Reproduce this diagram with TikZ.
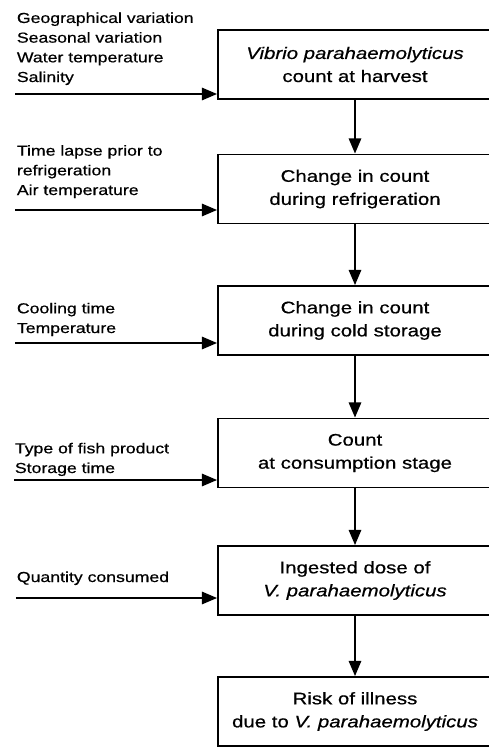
\documentclass[tikz,border=0pt]{standalone}
\usepackage{fontspec}
\setmainfont[FakeStretch=1.22, FakeBold=0.6]{Liberation Sans}
\usetikzlibrary{arrows.meta}

\tikzset{
  stage/.style={draw, line width=1.3pt, minimum width=6.85cm, minimum height=1.725cm,
    align=center, inner sep=2pt, font=\fontsize{11.9pt}{16.4pt}\selectfont},
  factor/.style={anchor=base west, align=left, inner sep=0pt,
    font=\fontsize{10.3pt}{14pt}\selectfont},
}

\begin{document}
\begin{tikzpicture}[>={Triangle[length=3.8mm, width=3.1mm]}, line width=1.3pt]
            \useasboundingbox (0,0) rectangle (12.2,-18.675);

            % Stages of the chain
            \node[stage] (harvest) at (8.875,-1.6125) {\textit{Vibrio parahaemolyticus}\\count at harvest};
            \node[stage] (fridge) at (8.875,-4.725) {Change in count\\during refrigeration};
            \node[stage] (cold) at (8.875,-8.0125) {Change in count\\during cold storage};
            \node[stage] (consume) at (8.875,-11.325) {Count\\at consumption stage};
            \node[stage] (dose) at (8.875,-14.5125) {Ingested dose of\\\textit{V. parahaemolyticus}};
            \node[stage] (risk) at (8.875,-17.7875) {Risk of illness\\due to \textit{V. parahaemolyticus}};

            % Arrows between stages
            \draw[->] (harvest) -- (fridge);
            \draw[->] (fridge) -- (cold);
            \draw[->] (cold) -- (consume);
            \draw[->] (consume) -- (dose);
            \draw[->] (dose) -- (risk);

            % Factors on the left (placed at the baseline of their last line)
            \node[factor] (fHarvest) at (0.4,-2.05) {Geographical variation\\Seasonal variation\\Water temperature\\Salinity};
            \node[factor] (fFridge) at (0.4,-4.875) {Time lapse prior to\\refrigeration\\Air temperature};
            \node[factor] (fCold) at (0.4,-8.325) {Cooling time\\Temperature};
            \node[factor] (fConsume) at (0.35,-11.825) {Type of fish product\\Storage time};
            \node[factor] (fDose) at (0.4,-14.55) {Quantity consumed};

            % Inputs into the stages
            \coordinate (sHarvest) at (0.375,-2.35);
            \coordinate (sFridge) at (0.375,-5.25);
            \coordinate (sCold) at (0.375,-8.575);
            \coordinate (sConsume) at (0.35,-12.0);
            \coordinate (sDose) at (0.4,-14.95);
            \draw[->] (sHarvest) -- (sHarvest -| harvest.west);
            \draw[->] (sFridge) -- (sFridge -| fridge.west);
            \draw[->] (sCold) -- (sCold -| cold.west);
            \draw[->] (sConsume) -- (sConsume -| consume.west);
            \draw[->] (sDose) -- (sDose -| dose.west);
        \end{tikzpicture}
\end{document}
